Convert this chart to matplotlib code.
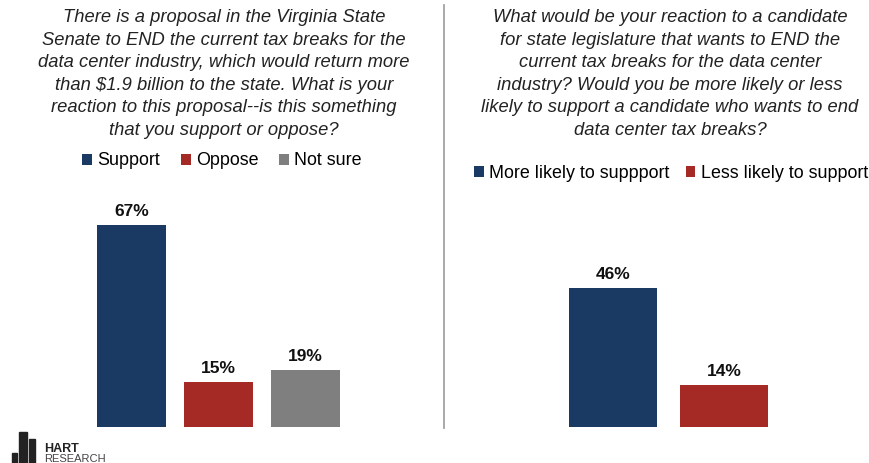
import matplotlib.pyplot as plt
from matplotlib.patches import Rectangle

plt.rcParams['font.family'] = ['Liberation Sans', 'DejaVu Sans']

W, H = 869, 463

left_title = ("There is a proposal in the Virginia State\n"
              "Senate to END the current tax breaks for the\n"
              "data center industry, which would return more\n"
              "than $1.9 billion to the state. What is your\n"
              "reaction to this proposal--is this something\n"
              "that you support or oppose?")
right_title = ("What would be your reaction to a candidate\n"
               "for state legislature that wants to END the\n"
               "current tax breaks for the data center\n"
               "industry? Would you be more likely or less\n"
               "likely to support a candidate who wants to end\n"
               "data center tax breaks?")

left_labels = ["Support", "Oppose", "Not sure"]
left_values = [67, 15, 19]
right_labels = ["More likely to suppport", "Less likely to support"]
right_values = [46, 14]

navy = "#1B3A63"
red = "#A52A25"
gray = "#7F7F7F"
left_colors = [navy, red, gray]
right_colors = [navy, red]

fig = plt.figure(figsize=(W / 100, H / 100), dpi=100)

px_per_pct = 3.015
ymax = 75
ax_h = ymax * px_per_pct / H
base_y = (H - 427) / H


def make_axes(x0, x1):
    ax = fig.add_axes([x0 / W, base_y, (x1 - x0) / W, ax_h])
    ax.set_ylim(0, ymax)
    ax.axis("off")
    return ax


def draw_bars(ax, labels, values, colors):
    bars = ax.bar(range(len(values)), values, width=0.793, color=colors, label=labels)
    for b, v in zip(bars, values):
        ax.text(b.get_x() + b.get_width() / 2, v + 2.0, f"{v}%", ha="center", va="bottom",
                fontsize=12.5, fontweight="bold", color="#111111")
    ax.set_xlim(-0.5, len(values) - 0.5)
    return bars


ax1 = make_axes(88, 349)
bars1 = draw_bars(ax1, left_labels, left_values, left_colors)
ax2 = make_axes(557.5, 779.5)
bars2 = draw_bars(ax2, right_labels, right_values, right_colors)

fig.text(224 / W, 1 - 9 / H, left_title, ha="center", va="top", fontsize=13.2,
         style="italic", linespacing=1.43, color="#222222")
fig.text(670 / W, 1 - 9 / H, right_title, ha="center", va="top", fontsize=13.2,
         style="italic", linespacing=1.43, color="#222222")

leg_kw = dict(frameon=False, fontsize=12.9, handlelength=0.55, handleheight=0.55,
              handletextpad=0.3, loc="center", borderaxespad=0)
fig.legend(bars1, left_labels, ncol=3, columnspacing=1.15,
           bbox_to_anchor=(222 / W, 1 - 161 / H), **leg_kw)
fig.legend(bars2, right_labels, ncol=2, columnspacing=0.9,
           bbox_to_anchor=(671 / W, 1 - 173 / H), **leg_kw)

# divider
fig.add_artist(plt.Line2D([444 / W, 444 / W], [1 - 5 / H, 1 - 428 / H],
                          color="#999999", lw=1.2))

# logo
logo_bars = [(12, 453, 5), (19, 432, 8), (29, 439, 6)]
for x, y, w in logo_bars:
    fig.add_artist(Rectangle((x / W, 0), w / W, (H - y) / H, color="#222222",
                             transform=fig.transFigure))
fig.text(44 / W, 1 - 452 / H, "HART", fontsize=9, fontweight="bold", color="#222222",
         va="baseline")
fig.text(44 / W, 1 - 462 / H, "RESEARCH", fontsize=8, color="#444444", va="baseline")

fig.savefig("out.png", dpi=100)
